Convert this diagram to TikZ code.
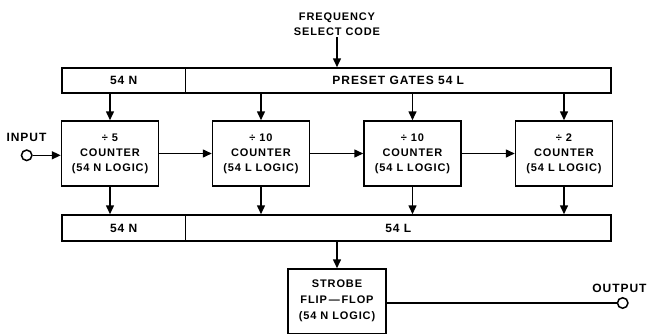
\documentclass[tikz,border=0pt]{standalone}
\usepackage{fontspec}
\setmainfont[LetterSpace=8]{Liberation Sans}
\usetikzlibrary{arrows.meta}
\begin{document}
\begin{tikzpicture}[x=1pt,y=-1pt,
  every node/.style={font=\bfseries\fontsize{11}{15}\selectfont, inner sep=0pt, align=center},
  big/.style={font=\bfseries\fontsize{12}{15}\selectfont},
  blk/.style={draw, line width=1.5pt, rectangle},
  bar/.style={blk, big, minimum height=25pt},
  ctr/.style={blk, minimum width=97pt, minimum height=65pt},
  term/.style={draw, line width=1.5pt, circle, minimum size=10.5pt},
  wire/.style={line width=1.5pt},
  arr/.style={wire, -{Triangle[length=9pt,width=8pt]}}]
\useasboundingbox (0,0) rectangle (648,335);
% top bars
\node[bar, minimum width=123.5pt] (tn) at (123.75,80.5) {54 N};
\node[bar, minimum width=425.5pt] (tl) at (398.25,80.5) {PRESET GATES 54 L};
\node (fsc) at (337,24.5) {FREQUENCY\\SELECT CODE};
\coordinate (fsa) at (337,37);
% counters
\node[ctr] (c1) at (110,153.5) {÷ 5\\COUNTER\\(54 N LOGIC)};
\node[ctr] (c2) at (261,153.5) {÷ 10\\COUNTER\\(54 L LOGIC)};
\node[ctr] (c3) at (412.5,153.5) {÷ 10\\COUNTER\\(54 L LOGIC)};
\node[ctr] (c4) at (564,153.5) {÷ 2\\COUNTER\\(54 L LOGIC)};
% bottom bars
\node[bar, minimum height=26pt, minimum width=123.5pt] (bn) at (123.75,228) {54 N};
\node[bar, minimum height=26pt, minimum width=425.5pt] (bl) at (398.25,228) {54 L};
% strobe
\node[blk, minimum width=98pt, minimum height=64.5pt, font=\bfseries\fontsize{11}{16}\selectfont] (st) at (337,301.25) {STROBE\\FLIP\,—\,FLOP\\(54 N LOGIC)};
% terminals
\node[term] (in) at (26.7,155.3) {};
\node[big, anchor=base] (inl) at (26.5,141.7) {INPUT};
\node[term] (out) at (622.7,303) {};
\node[big, anchor=base] (outl) at (619.5,292.3) {OUTPUT};
% connectors
\draw[arr] (fsa) -- (fsa |- tl.north);
\draw[arr] (c1.north |- tn.south) -- (c1.north);
\draw[arr] (c2.north |- tl.south) -- (c2.north);
\draw[arr] (c3.north |- tl.south) -- (c3.north);
\draw[arr] (c4.north |- tl.south) -- (c4.north);
\draw[arr] (in.east) -- (in.east -| c1.west);
\draw[arr] (c1.east) -- (c2.west);
\draw[arr] (c2.east) -- (c3.west);
\draw[arr] (c3.east) -- (c4.west);
\draw[arr] (c1.south) -- (c1.south |- bn.north);
\draw[arr] (c2.south) -- (c2.south |- bl.north);
\draw[arr] (c3.south) -- (c3.south |- bl.north);
\draw[arr] (c4.south) -- (c4.south |- bl.north);
\draw[arr] (st.north |- bl.south) -- (st.north);
\draw[wire] (out.west -| st.east) -- (out.west);
\end{tikzpicture}
\end{document}
